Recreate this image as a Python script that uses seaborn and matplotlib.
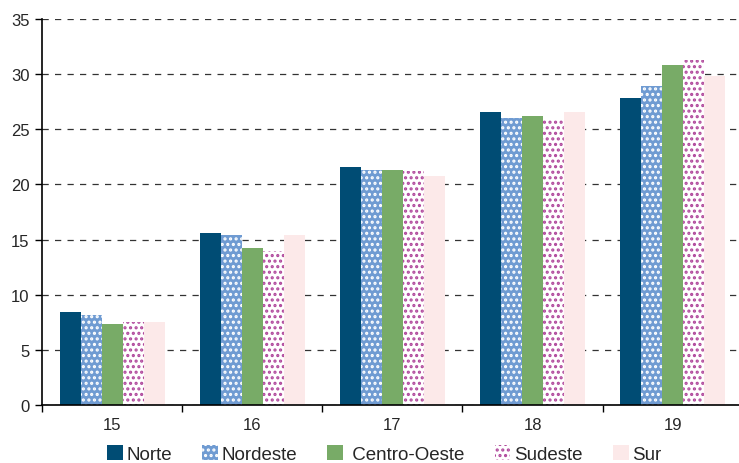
import pandas as pd
import matplotlib
matplotlib.use("Agg")
import matplotlib.pyplot as plt
import seaborn as sns
from matplotlib.patches import Patch
from matplotlib.ticker import FixedLocator

# data
edades = ["15", "16", "17", "18", "19"]
regiones = ["Norte", "Nordeste", "Centro-Oeste", "Sudeste", "Sur"]
etiquetas = ["Norte", "Nordeste", " Centro-Oeste", "Sudeste", "Sur"]
norte = [8.4, 15.6, 21.6, 26.6, 27.8]
nordeste = [8.2, 15.4, 21.3, 26.0, 28.9]
centro_oeste = [7.3, 14.2, 21.3, 26.2, 30.8]
sudeste = [7.5, 14.0, 21.2, 25.9, 31.3]
sur = [7.5, 15.4, 20.8, 26.6, 29.8]

valores = [norte, nordeste, centro_oeste, sudeste, sur]
rows = []
for reg, vals in zip(regiones, valores):
    for e, v in zip(edades, vals):
        rows.append({"Edad": e, "Region": reg, "Valor": v})
df = pd.DataFrame(rows)

# face colour, hatch colour, hatch
estilos = {
    "Norte": ("#004c74", "#004c74", ""),
    "Nordeste": ("#6f9bd2", "white", "..."),
    "Centro-Oeste": ("#78ab67", "#78ab67", ""),
    "Sudeste": ("white", "#b0489c", "..."),
    "Sur": ("#fce9e9", "#fce9e9", ""),
}

sns.set_style("white")
plt.rcParams["font.family"] = ["Liberation Sans", "DejaVu Sans"]
plt.rcParams["hatch.linewidth"] = 1.5

fig = plt.figure(figsize=(7.39, 4.64), dpi=100)
ax = fig.add_axes([0.057, 0.125, 0.948, 0.832])

sns.barplot(data=df, x="Edad", y="Valor", hue="Region", hue_order=regiones,
            order=edades, width=0.75, gap=0, ax=ax, legend=False,
            errorbar=None, saturation=1)

for cont, reg in zip(ax.containers, regiones):
    fc, hc, h = estilos[reg]
    for bar in cont:
        bar.set_facecolor(fc)
        bar.set_edgecolor(hc)
        bar.set_hatch(h)
        bar.set_linewidth(0)

ax.set_ylim(0, 35)
ax.set_xlim(-0.5, 4.5)
ax.set_yticks(range(0, 36, 5))
ax.yaxis.grid(True, linestyle=(0, (5, 5)), color="#333333", linewidth=0.9)
ax.set_axisbelow(True)
ax.set_xlabel("")
ax.set_ylabel("")

for s in ["top", "right"]:
    ax.spines[s].set_visible(False)
for s in ["left", "bottom"]:
    ax.spines[s].set_color("black")
    ax.spines[s].set_linewidth(1.2)

ax.tick_params(axis="x", which="major", length=0, labelsize=12, pad=9)
ax.xaxis.set_minor_locator(FixedLocator([-0.5, 0.5, 1.5, 2.5, 3.5]))
ax.tick_params(axis="x", which="minor", length=5, width=1, color="black",
               direction="out", bottom=True)
ax.tick_params(axis="y", length=5, width=1, color="black", direction="out",
               left=True, labelsize=12, pad=4)

handles = []
for reg in regiones:
    fc, hc, h = estilos[reg]
    handles.append(Patch(facecolor=fc, edgecolor=hc, hatch=h, linewidth=0))
fig.legend(handles, etiquetas, loc="lower center", ncol=5, frameon=False,
           bbox_to_anchor=(0.52, -0.036), fontsize=13.5, handlelength=0.85,
           handleheight=0.85, handletextpad=0.2, columnspacing=1.6)

fig.savefig("out.png", dpi=100)
